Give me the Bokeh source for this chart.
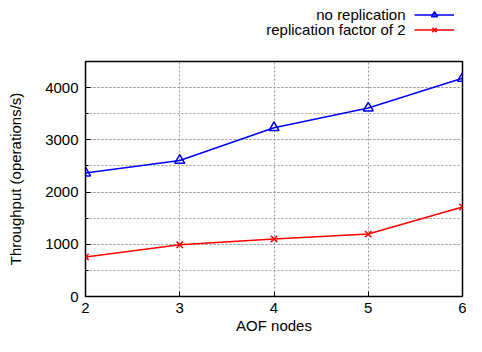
from bokeh.plotting import figure
from bokeh.layouts import column
from bokeh.models import (Range1d, SingleIntervalTicker, FixedTicker,
                          Legend, LegendItem, Label)
from bokeh.core.properties import value
from bokeh.embed import file_html
from bokeh.resources import INLINE

nodes = [2, 3, 4, 5, 6]
no_replication = [2365, 2605, 3232, 3608, 4178]
replication_2 = [758, 990, 1102, 1195, 1714]
series_names = ["no replication", "replication factor of 2"]
x_ticks = [2, 3, 4, 5, 6]

FONT = "Liberation Sans"
FS = "15px"
BLUE = "#0000ff"
RED = "#ff0000"

W = 466
LEG_H = 60
MAIN_H = 276
BL, BR = 85, 4

# ---------- main plot ----------
p = figure(width=W, height=MAIN_H, output_backend="svg", toolbar_location=None,
           x_range=Range1d(2, 6), y_range=Range1d(0, 4500),
           min_border_left=BL, min_border_right=BR, min_border_top=1,
           min_border_bottom=38, background_fill_color="white",
           border_fill_color="white")

p.outline_line_color = "black"
p.outline_line_width = 1.5

for ax in (p.xaxis[0], p.yaxis[0]):
    ax.major_tick_in = 5
    ax.major_tick_out = 0
    ax.minor_tick_in = 3
    ax.minor_tick_out = 0
    ax.axis_line_color = "black"
    ax.major_label_text_font = FONT
    ax.major_label_text_font_size = FS
    ax.major_label_text_color = "black"
    ax.axis_label_text_font = FONT
    ax.axis_label_text_font_size = FS
    ax.axis_label_text_font_style = "normal"
    ax.axis_label_text_color = "black"

p.xaxis.ticker = FixedTicker(ticks=x_ticks)
p.xaxis.axis_label = "AOF nodes"
p.xaxis.major_label_standoff = 6
p.xaxis.axis_label_standoff = 1

p.yaxis.ticker = SingleIntervalTicker(interval=1000, num_minor_ticks=2)
p.yaxis.axis_label = "Throughput (operations/s)"
p.yaxis.major_label_standoff = 7
p.yaxis.axis_label_standoff = 18

p.xgrid.grid_line_color = "#999999"
p.xgrid.grid_line_dash = "2 2"
p.ygrid.grid_line_color = "#999999"
p.ygrid.grid_line_dash = "2 2"
p.ygrid.minor_grid_line_color = "#999999"
p.ygrid.minor_grid_line_dash = "2 2"

p.line(nodes, no_replication, line_color=BLUE, line_width=1.5)
p.scatter(nodes, no_replication, marker="triangle", size=10,
          line_color=BLUE, fill_color=None, line_width=1.5)
p.line(nodes, replication_2, line_color=RED, line_width=1.5)
p.scatter(nodes, replication_2, marker="x", size=9,
          line_color=RED, line_width=1.5)

# ---------- legend strip (samples right, text right-aligned left) ----------
lf = figure(width=W, height=LEG_H, output_backend="svg", toolbar_location=None,
            x_range=Range1d(0, 1), y_range=Range1d(0, 1),
            min_border_left=BL, min_border_right=BR, min_border_top=0,
            min_border_bottom=0, outline_line_color=None)
lf.axis.visible = False
lf.grid.visible = False

# same series, drawn out of this strip's view: only their legend samples show
r1l = lf.line(nodes, no_replication, line_color=BLUE, line_width=1.5)
r1s = lf.scatter(nodes, no_replication, marker="triangle", size=10,
                 line_color=BLUE, fill_color=None, line_width=1.5)
r2l = lf.line(nodes, replication_2, line_color=RED, line_width=1.5)
r2s = lf.scatter(nodes, replication_2, marker="x", size=9,
                 line_color=RED, line_width=1.5)

legend = Legend(items=[LegendItem(label=value(" "), renderers=[r1l, r1s]),
                       LegendItem(label=value(" "), renderers=[r2l, r2s])],
                location=(329, 23), padding=0, margin=0, spacing=0,
                glyph_width=40, glyph_height=15, label_height=15, label_width=0,
                label_standoff=0, label_text_font_size="6px",
                border_line_color=None, background_fill_alpha=0)
lf.add_layout(legend, "center")

for i, name in enumerate(series_names):
    lf.add_layout(Label(x=320, y=46 - 15 * i, x_units="screen", y_units="screen",
                        text=name, text_align="right", text_baseline="middle",
                        text_font=FONT, text_font_size=FS, text_color="black"))

layout = column(lf, p, spacing=0)
open("out.html", "w").write(file_html(layout, INLINE))
